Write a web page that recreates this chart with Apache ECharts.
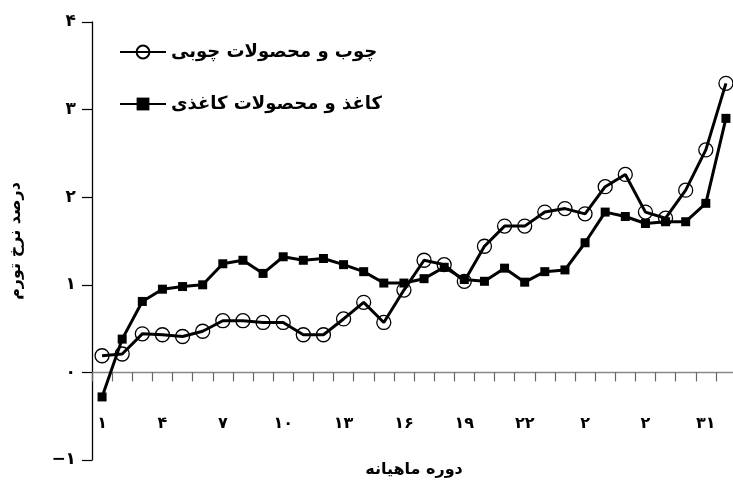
<!DOCTYPE html>
<html>
<head>
<meta charset="utf-8">
<script src="https://cdn.jsdelivr.net/npm/echarts@6/dist/echarts.min.js"></script>
<style>
  html, body { margin: 0; padding: 0; background: #fff; }
  #chart { width: 733px; height: 482px; }
</style>
</head>
<body>
<div id="chart"></div>
<script>
// monthly periods 1..32
const periods = ['۱','۲','۳','۴','۵','۶','۷','۸','۹','۱۰','۱۱','۱۲','۱۳','۱۴','۱۵','۱۶',
  '۱۷','۱۸','۱۹','۲۰','۲۱','۲۲','۲۳','۲۴','۲۵','۲۶','۲۷','۲۸','۲۹','۳۰','۳۱','۳۲']
// labels shown under every third period (as printed in the source)
const tickLabels = ['۱','۴','۷','۱۰','۱۳','۱۶','۱۹','۲۲','۲','۲','۳۱']
const faDigits = ['۰','۱','۲','۳','۴','۵','۶','۷','۸','۹']

const woodName = 'چوب و محصولات چوبی'
const wood = [0.19, 0.21, 0.44, 0.43, 0.41, 0.47, 0.59, 0.59, 0.57, 0.57,
  0.43, 0.43, 0.61, 0.80, 0.57, 0.94, 1.28, 1.23, 1.04, 1.44,
  1.67, 1.67, 1.83, 1.87, 1.81, 2.12, 2.26, 1.83, 1.76, 2.08, 2.54, 3.30]

const paperName = 'کاغذ و محصولات کاغذی'
const paper = [-0.28, 0.38, 0.81, 0.95, 0.98, 1.00, 1.24, 1.28, 1.13, 1.32,
  1.28, 1.30, 1.23, 1.15, 1.02, 1.02, 1.07, 1.20, 1.06, 1.04,
  1.19, 1.03, 1.15, 1.17, 1.48, 1.83, 1.78, 1.70, 1.72, 1.72, 1.93, 2.90]

const font = 'DejaVu Sans'
const toFa = (n) => String(n).replace(/\d/g, d => faDigits[+d])

let chart = echarts.init(document.getElementById('chart'))
chart.setOption({
  animation: false,
  textStyle: { fontFamily: font, color: '#000' },
  grid: { left: 92, right: -3, top: 22, bottom: 22, outerBoundsMode: 'none', containLabel: false },
  legend: {
    orient: 'vertical',
    left: 114,
    top: 38,
    itemGap: 34,
    itemWidth: 46,
    itemHeight: 16,
    textStyle: { fontFamily: font, fontSize: 18, fontWeight: 'bold', color: '#000' },
    data: [woodName, paperName]
  },
  xAxis: {
    type: 'category',
    data: periods,
    boundaryGap: true,
    name: 'دوره ماهیانه',
    nameLocation: 'middle',
    nameGap: 2,
    nameTextStyle: { fontFamily: font, fontSize: 16, fontWeight: 'bold', color: '#000' },
    axisLine: { onZero: true, lineStyle: { color: '#888', width: 1.3 } },
    axisTick: { show: true, interval: 0, length: 9, lineStyle: { color: '#666', width: 1.2 } },
    axisLabel: {
      interval: 0,
      margin: -44,
      fontSize: 16,
      fontWeight: 'bold',
      color: '#000',
      formatter: (v, i) => (i % 3 === 0 ? tickLabels[i / 3] : '')
    },
    splitLine: { show: false }
  },
  yAxis: {
    type: 'value',
    min: -1,
    max: 4,
    interval: 1,
    name: 'درصد نرخ تورم',
    nameLocation: 'middle',
    nameGap: 68,
    nameTextStyle: { fontFamily: font, fontSize: 16, fontWeight: 'bold', color: '#000' },
    axisLine: { show: true, lineStyle: { color: '#000', width: 1.3 } },
    axisTick: { show: true, length: 10, lineStyle: { color: '#000', width: 1.2 } },
    axisLabel: {
      margin: 16,
      fontSize: 17,
      fontWeight: 'bold',
      color: '#000',
      formatter: (v) => (v < 0 ? '−' + toFa(-v) : toFa(v))
    },
    splitLine: { show: false }
  },
  series: [
    {
      name: woodName,
      type: 'line',
      data: wood,
      symbol: 'circle',
      symbolSize: 14,
      lineStyle: { color: '#000', width: 3 },
      itemStyle: { color: 'rgba(255,255,255,0)', borderColor: '#000', borderWidth: 1.3 },
      z: 3
    },
    {
      name: paperName,
      type: 'line',
      data: paper,
      symbol: 'rect',
      symbolSize: 9,
      lineStyle: { color: '#000', width: 3 },
      itemStyle: { color: '#000' },
      z: 2
    }
  ]
})
</script>
</body>
</html>
